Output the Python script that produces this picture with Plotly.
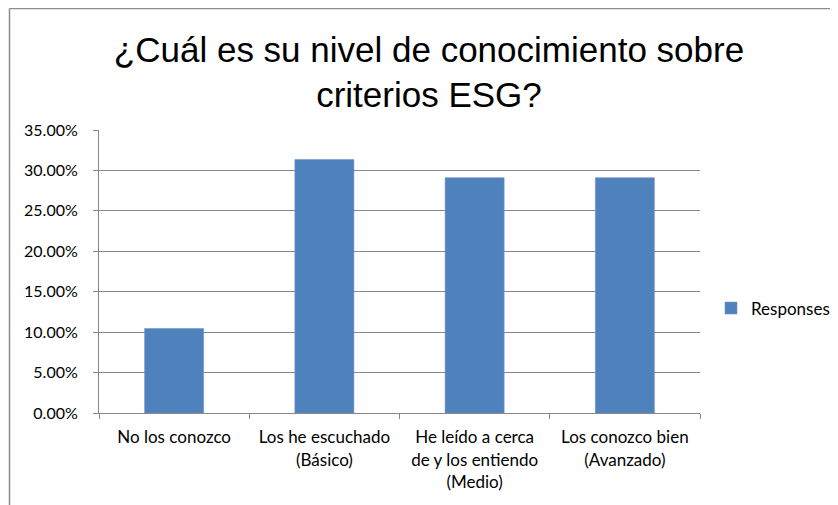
import plotly.graph_objects as go

categories = [
    "No los conozco",
    "Los he escuchado<br>(Básico)",
    "He leído a cerca<br>de y los entiendo<br>(Medio)",
    "Los conozco bien<br>(Avanzado)",
]
responses = [0.1045, 0.3134, 0.2910, 0.2910]
series_name = "Responses"
title_text = "¿Cuál es su nivel de conocimiento sobre<br>criterios ESG?"

# the page body keeps its default 8px margin, so work in page pixels and shift
OFF = 8
W, H = 838 - OFF, 505 - OFF
# plot area in page pixels
L, R, T, B = 99, 700, 130, 413

def px(x):
    return (x - L) / (R - L)

def py(y):
    return (B - y) / (B - T)

grey = "#878787"
body_font = dict(family="Lato, Calibri, sans-serif", size=17, color="#000000")

fig = go.Figure()
fig.add_trace(go.Bar(
    x=categories, y=responses, name=series_name,
    marker=dict(color="#4F81BD", line=dict(color="#7396c8", width=0.6)),
    showlegend=True,
))

fig.update_layout(
    width=W, height=H,
    margin=dict(l=L - OFF, r=838 - R, t=T - OFF, b=505 - B),
    paper_bgcolor="white", plot_bgcolor="white",
    font=body_font,
    bargap=0.607,
    title=dict(text=title_text, x=421 / W, xanchor="center", xref="container",
               y=1 - 53.5 / H, yanchor="middle", yref="container",
               font=dict(family="Liberation Sans, Arial, sans-serif", size=35, color="#000000")),
    legend=dict(x=(711 - OFF) / W, xanchor="left", xref="container",
                y=1 - (308.5 - OFF) / H, yanchor="middle", yref="container",
                font=dict(size=17), itemwidth=30, bgcolor="rgba(0,0,0,0)"),
    showlegend=True,
)

fig.update_yaxes(range=[0, 0.35], dtick=0.05, tickformat=".2%",
                 tickfont=dict(size=16),
                 showgrid=True, gridcolor=grey, gridwidth=1,
                 showline=True, linecolor=grey, linewidth=1,
                 ticks="outside", ticklen=5, tickcolor=grey,
                 ticklabelstandoff=12, zeroline=False, fixedrange=True)
fig.update_xaxes(showline=True, linecolor=grey, linewidth=1,
                 ticks="outside", ticklen=5, tickcolor=grey,
                 ticklabelstandoff=9,
                 tickson="boundaries", showgrid=False, fixedrange=True)

# outer chart frame (only top and left edges visible in the crop)
fig.add_shape(type="line", xref="paper", yref="paper",
              x0=px(9.5), x1=px(850), y0=py(8.5), y1=py(8.5),
              line=dict(color="#8c8c8c", width=1.5))
fig.add_shape(type="line", xref="paper", yref="paper",
              x0=px(9.5), x1=px(9.5), y0=py(8.5), y1=py(520),
              line=dict(color="#8c8c8c", width=1.5))

fig.write_html("out.html")
